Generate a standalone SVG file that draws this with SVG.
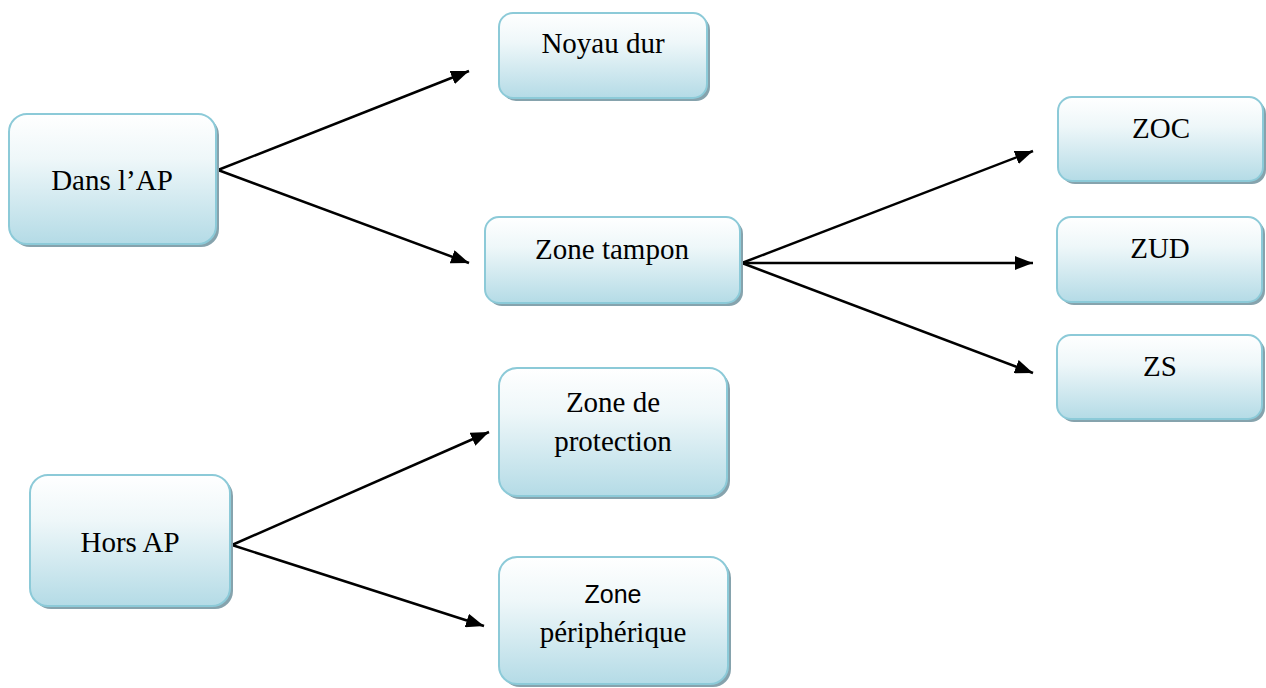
<svg xmlns="http://www.w3.org/2000/svg" width="1266" height="688" viewBox="0 0 1266 688">
<defs>
<linearGradient id="g" x1="0" y1="0" x2="0" y2="1">
<stop offset="0" stop-color="#ffffff"/>
<stop offset="0.35" stop-color="#eef7f9"/>
<stop offset="1" stop-color="#b4dbe6"/>
</linearGradient>
<marker id="ah" viewBox="0 0 18 14" refX="18" refY="7" markerWidth="18" markerHeight="14" markerUnits="userSpaceOnUse" orient="auto">
<path d="M0,0 L18,7 L0,14 Z" fill="#000"/>
</marker>
</defs>
<style>
.sh{fill:#86a3ad;}
.bx{fill:url(#g);stroke:#8ccad8;stroke-width:2;}
.t{font-family:"Liberation Serif","Times New Roman",serif;font-size:29px;fill:#000;text-anchor:middle;}
.s{font-family:"Liberation Sans",Arial,sans-serif;font-size:25px;fill:#000;text-anchor:middle;}
.c{stroke:#000;stroke-width:2.5;fill:none;marker-end:url(#ah);}
</style>
<rect width="1266" height="688" fill="#fff"/>
<g id="connectors">
<line class="c" x1="218" y1="170" x2="469" y2="71"/>
<line class="c" x1="218" y1="170" x2="469" y2="263"/>
<line class="c" x1="742" y1="263" x2="1033" y2="151"/>
<line class="c" x1="742" y1="263" x2="1033" y2="263"/>
<line class="c" x1="742" y1="263" x2="1033" y2="373"/>
<line class="c" x1="232" y1="545" x2="489" y2="432"/>
<line class="c" x1="232" y1="545" x2="484" y2="626"/>
</g>
<g id="dans">
<rect class="sh" x="12" y="117" width="207" height="130" rx="18"/>
<rect class="bx" x="9" y="114" width="207" height="130" rx="18"/>
<text class="t" x="112" y="190">Dans l’AP</text>
</g>
<g id="noyau">
<rect class="sh" x="502" y="16" width="208" height="85" rx="14"/>
<rect class="bx" x="499" y="13" width="208" height="85" rx="14"/>
<text class="t" x="603" y="53">Noyau dur</text>
</g>
<g id="tampon">
<rect class="sh" x="488" y="220" width="255" height="86" rx="14"/>
<rect class="bx" x="485" y="217" width="255" height="86" rx="14"/>
<text class="t" x="612" y="259">Zone tampon</text>
</g>
<g id="zoc">
<rect class="sh" x="1061" y="100" width="205" height="84" rx="14"/>
<rect class="bx" x="1058" y="97" width="205" height="84" rx="14"/>
<text class="t" x="1161" y="138">ZOC</text>
</g>
<g id="zud">
<rect class="sh" x="1060" y="220" width="205" height="85" rx="14"/>
<rect class="bx" x="1057" y="217" width="205" height="85" rx="14"/>
<text class="t" x="1160" y="258">ZUD</text>
</g>
<g id="zs">
<rect class="sh" x="1060" y="338" width="205" height="84" rx="14"/>
<rect class="bx" x="1057" y="335" width="205" height="84" rx="14"/>
<text class="t" x="1160" y="376">ZS</text>
</g>
<g id="protection">
<rect class="sh" x="502" y="371" width="228" height="128" rx="18"/>
<rect class="bx" x="499" y="368" width="228" height="128" rx="18"/>
<text class="t" x="613" y="412">Zone de</text>
<text class="t" x="613" y="451">protection</text>
</g>
<g id="hors">
<rect class="sh" x="33" y="478" width="200" height="131" rx="18"/>
<rect class="bx" x="30" y="475" width="200" height="131" rx="18"/>
<text class="t" x="130" y="552">Hors AP</text>
</g>
<g id="peripherique">
<rect class="sh" x="502" y="560" width="229" height="127" rx="18"/>
<rect class="bx" x="499" y="557" width="229" height="127" rx="18"/>
<text class="s" x="613" y="603">Zone</text>
<text class="t" x="613" y="642">périphérique</text>
</g>
</svg>
